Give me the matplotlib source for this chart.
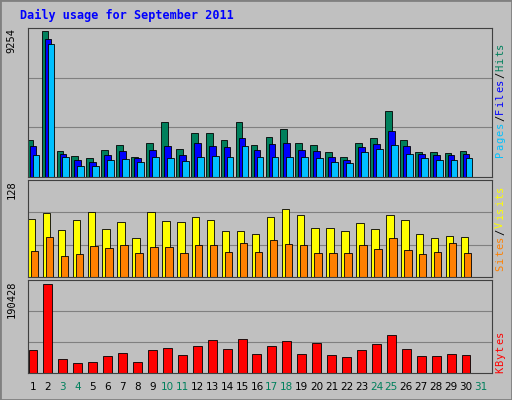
import matplotlib
matplotlib.use("Agg")
import matplotlib.pyplot as plt
import numpy as np

days = list(range(1, 32))
weekend = [3, 4, 10, 11, 17, 18, 24, 25, 31]
hits  = [2330, 9254, 1640, 1320, 1200, 1700, 2010, 1260, 2140, 3460, 1760, 2770, 2770, 2330, 3460, 2010, 2520, 3020, 2140, 2010, 1570, 1260, 2140, 2460, 4150, 2330, 1570, 1570, 1510, 1640]
files = [1950, 8750, 1450, 1070, 940, 1390, 1640, 1200, 1700, 1950, 1390, 2140, 1950, 1890, 2460, 1700, 2080, 2140, 1700, 1640, 1260, 1070, 1890, 2080, 2900, 1950, 1450, 1390, 1390, 1450]
pages = [1390, 8440, 1260, 690, 690, 1070, 1130, 940, 1260, 1200, 1010, 1260, 1320, 1260, 1950, 1260, 1260, 1260, 1260, 1200, 940, 880, 1570, 1760, 2010, 1450, 1200, 1070, 1070, 1200]
visits = [79, 87, 64, 77, 88, 65, 75, 53, 88, 76, 75, 81, 78, 62, 63, 59, 82, 93, 84, 66, 67, 63, 74, 65, 84, 77, 59, 53, 56, 54]
sites  = [36, 55, 28, 31, 42, 40, 43, 33, 41, 41, 33, 44, 44, 34, 46, 34, 50, 45, 43, 33, 33, 33, 43, 38, 53, 37, 31, 34, 46, 32]
kbytes = [49200, 190428, 29900, 21400, 23500, 36400, 42800, 23500, 49200, 53500, 38500, 57800, 70600, 51400, 72700, 40700, 57800, 68500, 40700, 64200, 38500, 34200, 49200, 62100, 81300, 51400, 36400, 36400, 40700, 38500]
max_hits, max_visits, max_kb = 9254, 128, 190428

W, H = 512, 400
fig = plt.figure(figsize=(5.12, 4.0), dpi=100, facecolor="#C0C0C0")
fig.patches.append(plt.Rectangle((0, 0), 1, 1, transform=fig.transFigure, fill=False, ec="#808080", lw=2))
fig.text(20/W, 1-15/H, "Daily usage for September 2011", color="#0000FF", family="DejaVu Sans Mono",
         weight="bold", fontsize=8.5, va="center")

def ax_at(top, bottom):
    return fig.add_axes([28/W, 1-bottom/H, 464/W, (bottom-top)/H], facecolor="#C0C0C0")

d = np.array(days[:30])
xl = (0.665, 31.74)
def style(ax, ymax, label):
    ax.set_xlim(*xl)
    ax.set_ylim(0, ymax)
    ax.set_xticks([]); ax.set_yticks([])
    for y in np.linspace(0, ymax, 4)[1:3]:
        ax.axhline(y, color="#808080", lw=0.8, zorder=0)
    for s in ax.spines.values():
        s.set_color("#404040")
    ax.text(-0.035, 1.0, label, rotation=90, transform=ax.transAxes, ha="center", va="top",
            fontsize=7.5, family="DejaVu Sans Mono")

ax1 = ax_at(28, 177)
style(ax1, max_hits*1.02, str(max_hits))
ax1.bar(d-0.2, hits, 0.45, color="#00805C", ec="black", lw=0.6)
ax1.bar(d, files, 0.45, color="#0000FF", ec="black", lw=0.6)
ax1.bar(d+0.2, pages, 0.45, color="#00C0FF", ec="black", lw=0.6)

ax2 = ax_at(180, 277)
style(ax2, max_visits*1.03, str(max_visits))
ax2.bar(d-0.1, visits, 0.5, color="#FFFF00", ec="black", lw=0.6)
ax2.bar(d+0.1, sites, 0.5, color="#FF8000", ec="black", lw=0.6)

ax3 = ax_at(280, 373)
style(ax3, max_kb*1.04, str(max_kb))
ax3.bar(d, kbytes, 0.6, color="#FF0000", ec="black", lw=0.6)

for day in days:
    x = 28/W + (day - xl[0])/(xl[1]-xl[0])*464/W
    fig.text(x, 1-387/H, str(day), ha="center", va="center", fontsize=7.5,
             color="#00805C" if day in weekend else "black")

def rlabel(parts, ycenter):
    total = sum(len(p) for p, _ in parts)
    ch = 7.2
    y = ycenter - total*ch/2 + ch/2
    for p, c in parts:
        for chx in p:
            fig.text(500/W, y/H, chx, rotation=90, ha="center", va="center",
                     fontsize=7.5, family="DejaVu Sans Mono", color=c)
            y += ch

rlabel([("Pages", "#00C0FF"), ("/", "black"), ("Files", "#0000FF"), ("/", "black"), ("Hits", "#00805C")], 400-100)
rlabel([("Sites", "#FF8000"), ("/", "black"), ("Visits", "#FFFF00")], 400-228)
rlabel([("KBytes", "#FF0000")], 400-352)

fig.savefig("out.png", dpi=100, facecolor=fig.get_facecolor())
